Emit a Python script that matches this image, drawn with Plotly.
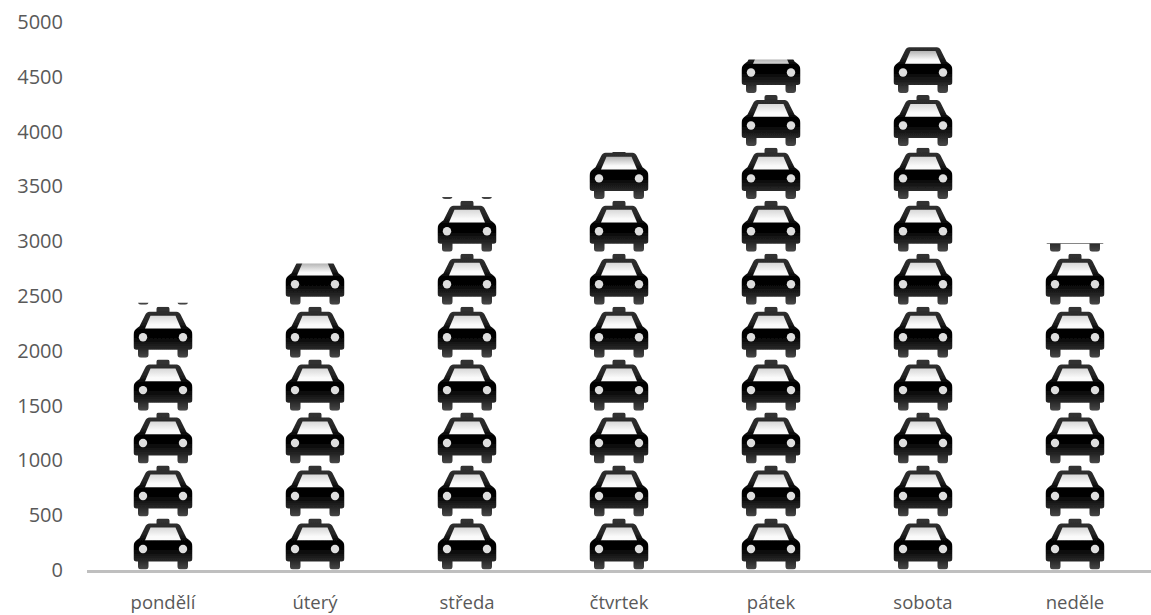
import base64
import plotly.graph_objects as go

days = ["pondělí", "úterý", "středa", "čtvrtek", "pátek", "sobota", "neděle"]
trips = [2438, 2797, 3404, 3814, 4658, 4769, 2981]
y_ticks = [0, 500, 1000, 1500, 2000, 2500, 3000, 3500, 4000, 4500, 5000]
units_per_icon = 483

GREY = "#595959"
W, H = 59.0, 51.0
ICON_SPAN = 0.388      # icon width in category units
ICON_FILL = H / 52.9   # share of one stacked unit taken by the icon
ICON_LIFT = 5          # gap under each icon, in axis units


def car_svg(crop_top=0.0):
    win_top = max(9.0, crop_top)
    vb_h = H - crop_top
    svg = f'''<svg xmlns="http://www.w3.org/2000/svg" width="{W*4}" height="{vb_h*4}" viewBox="0 {crop_top} {W} {vb_h}" preserveAspectRatio="none">
<defs>
<filter id="s" x="-5%" y="-5%" width="110%" height="110%"><feGaussianBlur stdDeviation="0.4"/></filter>
<linearGradient id="b" gradientUnits="userSpaceOnUse" x1="0" y1="0" x2="0" y2="{H}">
<stop offset="0" stop-color="#333"/><stop offset="0.3" stop-color="#262626"/><stop offset="0.46" stop-color="#000"/>
<stop offset="0.62" stop-color="#060606"/><stop offset="0.84" stop-color="#2a2a2a"/><stop offset="1" stop-color="#484848"/>
</linearGradient>
<linearGradient id="w" gradientUnits="userSpaceOnUse" x1="0" y1="{win_top}" x2="0" y2="{win_top + 9}">
<stop offset="0" stop-color="{'#b4b4b4' if crop_top else '#d8d8d8'}"/><stop offset="1" stop-color="#fafafa"/>
</linearGradient>
</defs>
<g filter="url(#s)">
<path fill="url(#b)" d="M25 0 H34 Q36 0 36 2 V5 H43 Q46 5 47.5 8.5 L53 19.5 L55 21 Q59 23.5 59 28 V40 Q59 43 56 43 H54.5 V48 Q54.5 51 51.5 51 H47 Q44 51 44 48 V43 H15 V48 Q15 51 12 51 H7.5 Q4.5 51 4.5 48 V43 H3 Q0 43 0 40 V28 Q0 23.5 4 21 L6 19.5 L11.5 8.5 Q13 5 16 5 H23 V2 Q23 0 25 0 Z"/>
<path fill="url(#w)" d="M17 9 H42 L47.5 21.7 H11.5 Z"/>
<circle cx="9.5" cy="30.5" r="4.2" fill="#dedede"/>
<circle cx="49.5" cy="30.5" r="4.2" fill="#dedede"/>
</g>
</svg>'''
    return "data:image/svg+xml;base64," + base64.b64encode(svg.encode()).decode()


images = []
for i, total in enumerate(trips):
    k = 0
    while k * units_per_icon + ICON_LIFT < total:
        base = k * units_per_icon + ICON_LIFT
        full = units_per_icon * ICON_FILL
        shown = min(total - base, full)
        crop = H * (1 - shown / full)
        images.append(dict(
            source=car_svg(crop), xref="x", yref="y",
            x=i, y=base, sizex=ICON_SPAN, sizey=shown,
            xanchor="center", yanchor="bottom", sizing="stretch", layer="below",
        ))
        k += 1

fig = go.Figure(go.Bar(x=days, y=trips, marker=dict(color="rgba(0,0,0,0)", line=dict(width=0)),
                       width=ICON_SPAN, hoverinfo="x+y"))
font = dict(family="Open Sans, sans-serif", size=20, color=GREY)
xfont = dict(family="Open Sans, sans-serif", size=18.5, color=GREY)
fig.update_layout(
    width=1151, height=615, autosize=False,
    margin=dict(l=87, r=0, t=22, b=45, pad=0),
    paper_bgcolor="white", plot_bgcolor="white", showlegend=False,
    images=images,
    xaxis=dict(type="category", categoryorder="array", categoryarray=days, range=[-0.5, 6.5],
               automargin=False,
               showgrid=False, zeroline=False, showline=True, linecolor="#BFBFBF", linewidth=3,
               ticks="outside", ticklen=14, tickcolor="rgba(0,0,0,0)", tickfont=xfont),
    yaxis=dict(range=[0, 5000], tickvals=y_ticks, showgrid=False, zeroline=False, showline=False,
               automargin=False,
               ticks="outside", ticklen=19, tickcolor="rgba(0,0,0,0)", tickfont=font),
)
fig.write_html("out.html", config=dict(displayModeBar=False),
               post_script="document.body.style.margin='0';document.documentElement.style.overflow='hidden';window.dispatchEvent(new Event('resize'));")
